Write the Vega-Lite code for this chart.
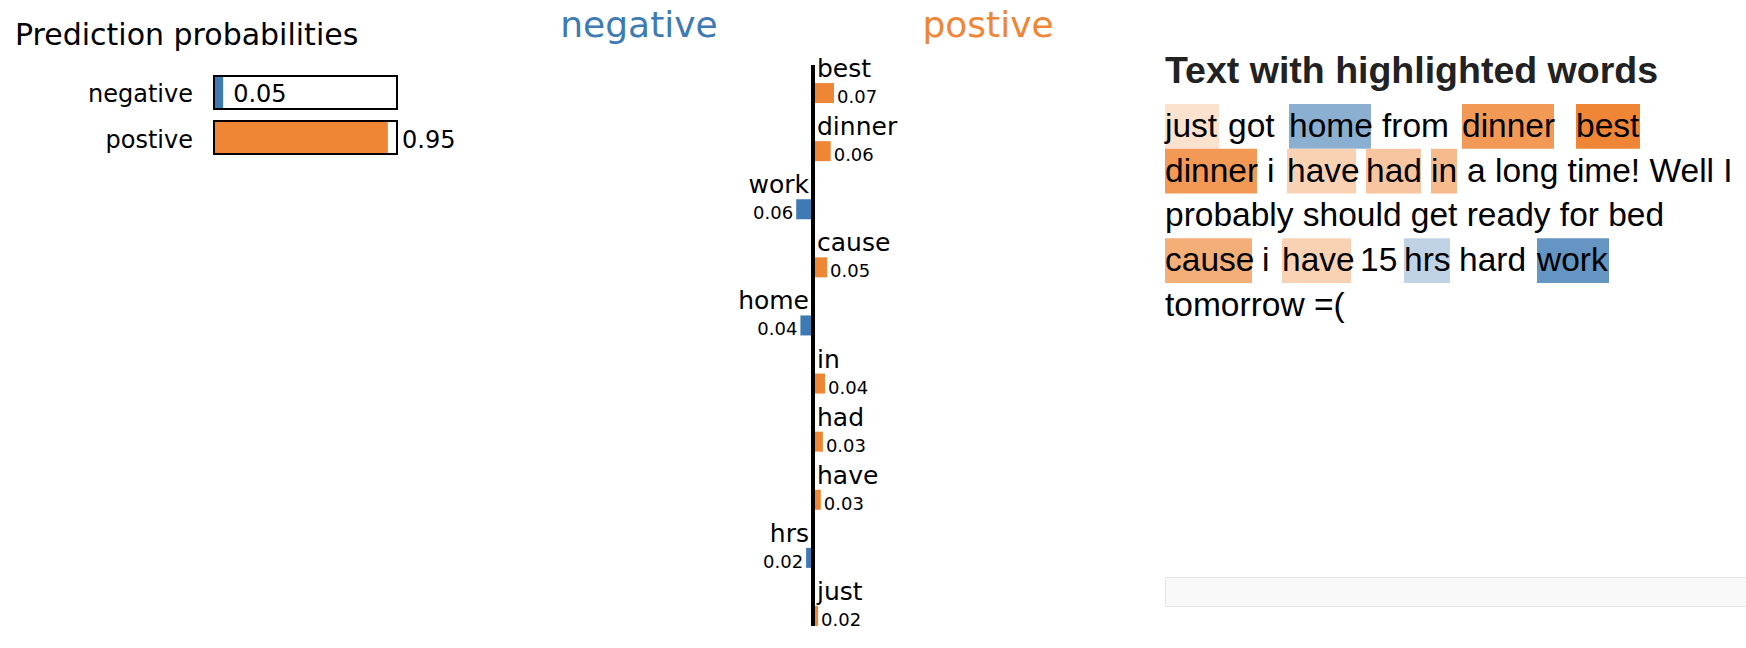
{
  "$schema": "https://vega.github.io/schema/vega-lite/v6.json",
  "padding": 0,
  "background": "white",
  "bounds": "full",
  "spacing": 0,
  "config": {"view": {"stroke": null}},
  "resolve": {"scale": {"color": "independent"}},
  "datasets": {
    "probs": [
      {"class": "negative", "prob": 0.05},
      {"class": "postive", "prob": 0.95}
    ],
    "explanation": [
      {"word": "best", "weight": 0.070},
      {"word": "dinner", "weight": 0.059},
      {"word": "work", "weight": -0.056},
      {"word": "cause", "weight": 0.047},
      {"word": "home", "weight": -0.042},
      {"word": "in", "weight": 0.040},
      {"word": "had", "weight": 0.033},
      {"word": "have", "weight": 0.026},
      {"word": "hrs", "weight": -0.023},
      {"word": "just", "weight": 0.017}
    ],
    "tokens": [
      {"line": 1, "start": 0, "end": 54, "text": "just"},
      {"line": 1, "start": 63, "text": "got"},
      {"line": 1, "start": 124, "end": 206, "text": "home"},
      {"line": 1, "start": 217, "text": "from"},
      {"line": 1, "start": 297, "end": 389, "text": "dinner"},
      {"line": 1, "start": 411, "end": 475, "text": "best"},
      {"line": 2, "start": 0, "end": 92, "text": "dinner"},
      {"line": 2, "start": 102, "text": "i"},
      {"line": 2, "start": 122, "end": 191, "text": "have"},
      {"line": 2, "start": 201, "end": 256, "text": "had"},
      {"line": 2, "start": 266, "end": 292, "text": "in"},
      {"line": 2, "start": 302, "text": "a long time! Well I"},
      {"line": 3, "start": 0, "text": "probably should get ready for bed"},
      {"line": 4, "start": 0, "end": 87, "text": "cause"},
      {"line": 4, "start": 97, "text": "i"},
      {"line": 4, "start": 117, "end": 186, "text": "have"},
      {"line": 4, "start": 195, "text": "15"},
      {"line": 4, "start": 239, "end": 285, "text": "hrs"},
      {"line": 4, "start": 294, "text": "hard"},
      {"line": 4, "start": 372, "end": 444, "text": "work"},
      {"line": 5, "start": 0, "text": "tomorrow =("}
    ]
  },
  "hconcat": [
    {
      "width": 540,
      "height": 648,
      "title": {"text": "Prediction probabilities", "anchor": "start", "frame": "group", "offset": -75, "baseline": "alphabetic", "dx": 15, "font": "DejaVu Sans", "fontSize": 30, "fontWeight": "normal", "color": "black"},
      "data": {"name": "probs"},
      "encoding": {
        "y": {"field": "class", "type": "nominal", "sort": null, "axis": null, "scale": {"range": [76, 154], "paddingInner": 0.2667, "paddingOuter": 0}}
      },
      "layer": [
        {
          "mark": {"type": "bar"},
          "encoding": {
            "x": {"field": "prob", "type": "quantitative", "scale": {"domain": [0, 1], "range": [214, 397]}, "axis": null},
            "color": {"field": "class", "type": "nominal", "scale": {"domain": ["negative", "postive"], "range": ["#3e7ab3", "#ef8636"]}, "legend": null}
          }
        },
        {
          "mark": {"type": "bar", "fillOpacity": 0, "stroke": "black", "strokeWidth": 2},
          "encoding": {
            "x": {"datum": 1, "type": "quantitative"}
          }
        },
        {
          "mark": {"type": "text", "align": "right", "baseline": "middle", "dx": -21, "dy": 3, "font": "DejaVu Sans", "fontSize": 24, "color": "black"},
          "encoding": {
            "x": {"datum": 0, "type": "quantitative"},
            "text": {"field": "class"}
          }
        },
        {
          "transform": [{"filter": "datum.prob < 0.5"}],
          "mark": {"type": "text", "align": "left", "baseline": "middle", "dx": 10, "dy": 3, "font": "DejaVu Sans", "fontSize": 24, "color": "black"},
          "encoding": {
            "x": {"field": "prob", "type": "quantitative"},
            "text": {"field": "prob", "format": ".2f"}
          }
        },
        {
          "transform": [{"filter": "datum.prob >= 0.5"}],
          "mark": {"type": "text", "align": "left", "baseline": "middle", "dx": 5, "dy": 3, "font": "DejaVu Sans", "fontSize": 24, "color": "black"},
          "encoding": {
            "x": {"datum": 1, "type": "quantitative"},
            "text": {"field": "prob", "format": ".2f"}
          }
        }
      ]
    },
    {
      "spacing": 0,
      "bounds": "flush",
      "vconcat": [
        {
          "width": 624,
          "height": 65,
          "data": {"name": "probs"},
          "mark": {"type": "text", "font": "DejaVu Sans", "fontSize": 36, "baseline": "alphabetic", "align": "center", "dy": 4},
          "encoding": {
            "x": {"field": "class", "type": "nominal", "sort": null, "axis": null, "scale": {"type": "point", "range": [99, 448], "padding": 0}},
            "text": {"field": "class"},
            "color": {"field": "class", "type": "nominal", "scale": {"domain": ["negative", "postive"], "range": ["#3e7ab3", "#ef8636"]}, "legend": null}
          }
        },
        {
          "width": 624,
          "height": 561,
          "data": {"name": "explanation"},
          "transform": [{"calculate": "abs(datum.weight)", "as": "magnitude"}],
          "layer": [
            {
              "transform": [{"filter": "datum.weight > 0"}],
              "mark": {"type": "bar", "size": 20, "color": "#ef8636"},
              "encoding": {
                "y": {"field": "word", "type": "nominal", "sort": ["best", "dinner", "work", "cause", "home", "in", "had", "have", "hrs", "just"], "axis": null, "scale": {"range": [-1, 580], "paddingInner": 0, "paddingOuter": 0}},
                "x": {"field": "weight", "type": "quantitative", "scale": {"domain": [-0.1, 0.1], "range": [243, 303]}, "axis": null}
              }
            },
            {
              "transform": [{"filter": "datum.weight < 0"}],
              "mark": {"type": "bar", "size": 20, "color": "#3e7ab3"},
              "encoding": {
                "y": {"field": "word", "type": "nominal", "sort": ["best", "dinner", "work", "cause", "home", "in", "had", "have", "hrs", "just"], "axis": null},
                "x": {"field": "weight", "type": "quantitative"}
              }
            },
            {
              "mark": {"type": "rule", "strokeWidth": 4, "color": "black"},
              "encoding": {"x": {"datum": 0, "type": "quantitative"}}
            },
            {
              "transform": [{"filter": "datum.weight > 0"}],
              "mark": {"type": "text", "align": "left", "baseline": "alphabetic", "dx": 4, "font": "DejaVu Sans", "fontSize": 25, "color": "black"},
              "encoding": {
                "y": {"field": "word", "type": "nominal", "sort": ["best", "dinner", "work", "cause", "home", "in", "had", "have", "hrs", "just"], "axis": null, "bandPosition": 0.2246},
                "x": {"datum": 0, "type": "quantitative"},
                "text": {"field": "word"}
              }
            },
            {
              "transform": [{"filter": "datum.weight < 0"}],
              "mark": {"type": "text", "align": "right", "baseline": "alphabetic", "dx": -4, "font": "DejaVu Sans", "fontSize": 25, "color": "black"},
              "encoding": {
                "y": {"field": "word", "type": "nominal", "sort": ["best", "dinner", "work", "cause", "home", "in", "had", "have", "hrs", "just"], "axis": null, "bandPosition": 0.2246},
                "x": {"datum": 0, "type": "quantitative"},
                "text": {"field": "word"}
              }
            },
            {
              "transform": [{"filter": "datum.weight > 0"}],
              "mark": {"type": "text", "align": "left", "baseline": "alphabetic", "dx": 3, "font": "DejaVu Sans", "fontSize": 18, "color": "black"},
              "encoding": {
                "y": {"field": "word", "type": "nominal", "sort": ["best", "dinner", "work", "cause", "home", "in", "had", "have", "hrs", "just"], "axis": null, "bandPosition": 0.672},
                "x": {"field": "weight", "type": "quantitative"},
                "text": {"field": "magnitude", "format": ".2f"}
              }
            },
            {
              "transform": [{"filter": "datum.weight < 0"}],
              "mark": {"type": "text", "align": "right", "baseline": "alphabetic", "dx": -3, "font": "DejaVu Sans", "fontSize": 18, "color": "black"},
              "encoding": {
                "y": {"field": "word", "type": "nominal", "sort": ["best", "dinner", "work", "cause", "home", "in", "had", "have", "hrs", "just"], "axis": null, "bandPosition": 0.672},
                "x": {"field": "weight", "type": "quantitative"},
                "text": {"field": "magnitude", "format": ".2f"}
              }
            }
          ]
        }
      ]
    },
    {
      "spacing": 0,
      "bounds": "flush",
      "vconcat": [
        {
          "width": 582,
          "height": 577,
          "title": {"text": "Text with highlighted words", "anchor": "start", "frame": "group", "offset": -120.5, "baseline": "alphabetic", "font": "Liberation Sans", "fontSize": 37.5, "fontWeight": "bold", "color": "#222222"},
          "data": {"name": "tokens"},
          "transform": [{"lookup": "text", "from": {"data": {"name": "explanation"}, "key": "word", "fields": ["weight"]}}],
          "layer": [
            {
              "transform": [{"filter": "isValid(datum.weight)"}],
              "mark": {"type": "rect"},
              "encoding": {
                "x": {"field": "start", "type": "quantitative", "scale": {"domain": [0, 582], "nice": false}, "axis": null},
                "x2": {"field": "end"},
                "y": {"field": "line", "type": "ordinal", "axis": null, "scale": {"range": [104, 327.75], "paddingInner": 0, "paddingOuter": 0}},
                "color": {"field": "weight", "type": "quantitative", "scale": {"domain": [-0.07, 0, 0.07], "range": ["#3e7ab3", "#ffffff", "#ef8636"], "interpolate": "rgb"}, "legend": null}
              }
            },
            {
              "mark": {"type": "text", "align": "left", "baseline": "alphabetic", "font": "Liberation Sans", "fontSize": 33.5, "color": "black"},
              "encoding": {
                "x": {"field": "start", "type": "quantitative"},
                "y": {"field": "line", "type": "ordinal", "axis": null, "bandPosition": 0.737},
                "text": {"field": "text"}
              }
            }
          ]
        },
        {
          "width": 582,
          "height": 29,
          "view": {"fill": "#f9f9f9", "stroke": "#e6e6e6"},
          "data": {"name": "probs"},
          "mark": {"type": "point", "opacity": 0},
          "encoding": {}
        }
      ]
    }
  ]
}
